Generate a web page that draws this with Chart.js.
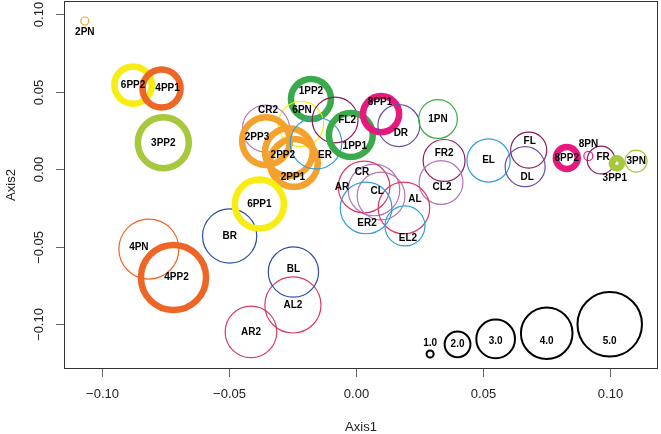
<!DOCTYPE html>
<html lang="en">
<head>
<meta charset="UTF-8" />
<title>Axis1 / Axis2 bubble plot</title>
<script src="https://cdn.jsdelivr.net/npm/chart.js"></script>
<style>
  body { margin: 0; background: #fff; }
  canvas { display: block; }
</style>
</head>
<body>
<canvas id="plot" width="661" height="434"></canvas>
<script>
// ---- data ----
const names = ['2PN','6PP2','4PP1','3PP2','1PP2','6PN','CR2','2PP3','2PP2','2PP1',
  'ER','FL2','1PP1','8PP1','DR','1PN','FR2','CL2','EL','FL',
  'DL','8PP2','8PN','FR','3PP1','3PN','CR','AR','CL','AL',
  'ER2','EL2','AL2','BL','AR2','BR','4PN','4PP2','6PP1'];
const axis1 = [-0.1066,-0.0876,-0.0764,-0.0757,-0.0176,-0.0215,-0.0353,-0.0353,-0.0263,-0.0243,
  -0.0156,-0.0081,-0.0019,0.0100,0.0170,0.0324,0.0348,0.0336,0.0523,0.0681,
  0.0667,0.0831,0.0916,0.0966,0.1028,0.1104,0.0072,0.0033,0.0100,0.0190,
  0.0041,0.0194,-0.0247,-0.0245,-0.0412,-0.0496,-0.0814,-0.0717,-0.0379];
const axis2 = [0.0956,0.0543,0.0521,0.0171,0.0453,0.0292,0.0263,0.0182,0.0111,0.0041,
  0.0169,0.0318,0.0221,0.0356,0.0282,0.0324,0.0057,-0.0085,0.0057,0.0124,
  0.0017,0.0073,0.0086,0.0060,0.0039,0.0053,-0.0133,-0.0114,-0.0172,-0.0249,
  -0.0249,-0.0365,-0.0874,-0.0662,-0.1048,-0.0430,-0.0514,-0.0697,-0.0224];
const sizes = [0.62,2.9,2.95,3.95,3.1,3.5,3.65,3.7,3.7,3.7,
  4.0,3.55,3.4,2.8,3.25,3.0,3.25,3.4,3.35,2.8,
  3.1,1.7,0.7,2.15,0.78,1.7,4.0,4.0,3.7,4.0,
  4.0,3.1,4.35,3.9,4.0,4.2,4.65,5.05,3.8];

const legendLabels = ['1.0','2.0','3.0','4.0','5.0'];
const legendSizes = [0.55,2,3,4,5];
const legendX = [0.0293,0.0401,0.0551,0.0752,0.1000];
const legendY = [-0.1190,-0.1128,-0.1093,-0.1057,-0.0999];

const xTicks = [-0.10,-0.05,0.00,0.05,0.10];
const yTicks = [-0.10,-0.05,0.00,0.05,0.10];

// ---- styling ----
const PX_PER_SIZE = 6.45;
const groupColor = {
  '1':'#3BAA4B','2':'#F4A22D','3':'#A6C83C','4':'#EE6626','6':'#F7EC13','8':'#E6197F',
  'A':'#DA3A63','B':'#2E4E9C','C':'#B574BE','D':'#6E4FA0','E':'#339ED6','F':'#8C1D5E'
};
// label nudges in pixels (text position relative to circle centre)
const labelNudge = {
  '2PN':[0,11],'4PP1':[6,0],'1PP2':[0,-8],'6PN':[1,-14],'CR2':[2,-18],'2PP3':[-9,-4],
  '2PP2':[-6,3],'2PP1':[-1,14],'ER':[9,12],'FL2':[12,0],'1PP1':[4,11],'8PP1':[-1,-12],
  'DR':[2,8],'FR2':[0,-7],'CL2':[1,5],'FL':[1,-9],'DL':[2,11],'8PN':[0,-12],'FR':[2,-3],
  '3PP1':[-2,15],'CR':[-12,-18],'AR':[-22,0],'CL':[-4,-5],'AL':[11,-9],'ER2':[1,15],
  'EL2':[3,12],'BL':[0,-3],'4PN':[-10,-2],'4PP2':[3,0],
  '1.0':[0,-11],'3.0':[0,2],'4.0':[0,8],'5.0':[0,17]
};

const fmt = v => (v < 0 ? '\u2212' : '') + Math.abs(v).toFixed(2);

const points = names.map((n, i) => ({ x: axis1[i], y: axis2[i], r: sizes[i] * PX_PER_SIZE, label: n }));
const legendPts = legendLabels.map((l, i) => ({ x: legendX[i], y: legendY[i], r: legendSizes[i] * PX_PER_SIZE, label: l }));

const frame = {
  id: 'frame',
  afterDraw(chart) {
    const ctx = chart.ctx, a = chart.chartArea;
    const xs = chart.scales.x, ys = chart.scales.y;
    ctx.save();
    ctx.strokeStyle = '#333';
    ctx.lineWidth = 1;
    ctx.strokeRect(Math.round(a.left) + 0.5, Math.round(a.top) + 0.5,
      Math.round(a.right - a.left) - 1, Math.round(a.bottom - a.top) - 1);
    ctx.strokeStyle = '#666';
    ctx.fillStyle = '#222';
    ctx.font = '13px "Liberation Sans", Arial, sans-serif';
    ctx.textAlign = 'center';
    ctx.textBaseline = 'middle';
    xTicks.forEach(v => {
      const px = Math.round(xs.getPixelForValue(v)) + 0.5;
      ctx.beginPath(); ctx.moveTo(px, a.bottom); ctx.lineTo(px, a.bottom + 8); ctx.stroke();
      ctx.fillText(fmt(v), px, a.bottom + 25);
    });
    yTicks.forEach(v => {
      const py = Math.round(ys.getPixelForValue(v)) + 0.5;
      ctx.beginPath(); ctx.moveTo(a.left - 8, py); ctx.lineTo(a.left, py); ctx.stroke();
      ctx.save();
      ctx.translate(a.left - 25, py);
      ctx.rotate(-Math.PI / 2);
      ctx.fillText(fmt(v), 0, 0);
      ctx.restore();
    });
    ctx.fillText('Axis1', (a.left + a.right) / 2, a.bottom + 58);
    ctx.save();
    ctx.translate(11, (a.top + a.bottom) / 2);
    ctx.rotate(-Math.PI / 2);
    ctx.fillText('Axis2', 0, 0);
    ctx.restore();
    ctx.restore();
  },
  afterDatasetsDraw(chart) {
    const ctx = chart.ctx;
    ctx.save();
    ctx.fillStyle = '#000';
    ctx.font = 'bold 10px "Liberation Sans", Arial, sans-serif';
    ctx.textAlign = 'center';
    ctx.textBaseline = 'middle';
    chart.data.datasets.forEach((ds, di) => {
      chart.getDatasetMeta(di).data.forEach((el, i) => {
        const lab = ds.data[i].label;
        const n = labelNudge[lab] || [0, 0];
        ctx.fillText(lab, el.x + n[0], el.y + n[1]);
      });
    });
    ctx.restore();
  }
};

new Chart(document.getElementById('plot'), {
  type: 'bubble',
  data: {
    datasets: [
      {
        data: points,
        backgroundColor: 'rgba(0,0,0,0)',
        borderColor: names.map(n => groupColor[n[0]]),
        borderWidth: names.map(n => n.includes('PP') ? 6.5 : 1.2),
        clip: false
      },
      {
        data: legendPts,
        backgroundColor: 'rgba(0,0,0,0)',
        borderColor: '#000',
        borderWidth: 2,
        clip: false
      }
    ]
  },
  options: {
    responsive: false,
    animation: false,
    events: [],
    layout: { autoPadding: false, padding: { left: 64, right: 3, top: 1, bottom: 65 } },
    plugins: { legend: { display: false }, tooltip: { enabled: false } },
    scales: {
      x: { type: 'linear', min: -0.1148, max: 0.119, display: false },
      y: { type: 'linear', min: -0.1287, max: 0.1085, display: false }
    }
  },
  plugins: [frame]
});
</script>
</body>
</html>
